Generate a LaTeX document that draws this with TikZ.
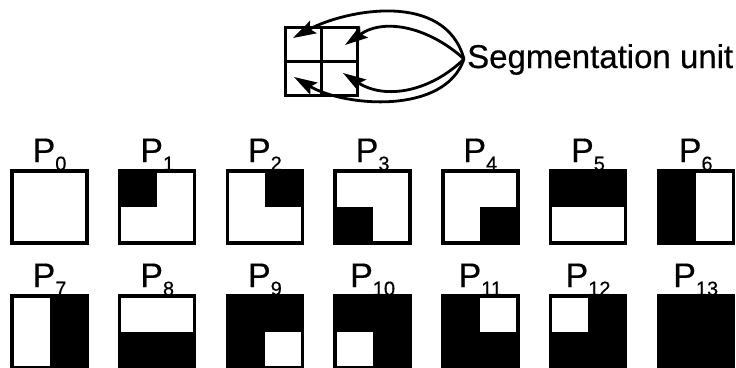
\documentclass[tikz,border=0pt]{standalone}
\usepackage{fontspec}
\setmainfont{Liberation Sans}[FakeBold=0.5]
\usetikzlibrary{arrows.meta,calc}
\newcommand\plab[1]{P\raisebox{-8.5pt}{\fontsize{20}{20}\selectfont #1}}
\begin{document}
\begin{tikzpicture}[x=1pt,y=-1pt,
  pbox/.style={draw, line width=3.4pt, minimum width=75pt, minimum height=72pt,
    inner sep=0pt, outer sep=0pt, anchor=north west, fill=#1},
  pbox/.default=white,
  plabel/.style={anchor=base, inner sep=0pt, font=\fontsize{34}{34}\selectfont},
  cell/.style={draw, line width=3pt, minimum width=36pt, minimum height=34pt, inner sep=0pt, outer sep=0pt},
  seg/.style={line width=2.8pt, -{Stealth[length=23pt,width=14pt,inset=4pt]}},
]
\useasboundingbox (0,0) rectangle (736,367);

% segmentation unit
\node[cell] (c1) at (303,44) {};
\node[cell] (c2) at (339,44) {};
\node[cell] (c3) at (303,78) {};
\node[cell] (c4) at (339,78) {};
\coordinate (conv) at (464,59);
\coordinate (t1) at (293,38);
\coordinate (t2) at (345,45);
\coordinate (t3) at (294,77);
\coordinate (t4) at (343,73);
\draw[seg] (conv) .. controls (445,-10) and (345,10) .. (t1);
\draw[seg] (conv) .. controls (430,28) and (385,17) .. (t2);
\draw[seg] (conv) .. controls (430,92) and (385,100) .. (t4);
\draw[seg] (conv) .. controls (445,115) and (345,107) .. (t3);
\node[anchor=base west, inner sep=0pt, font=\fontsize{33}{33}\selectfont] (su) at (467,68) {Segmentation unit};

% row 1
\node[pbox] (b0) at (12,171) {};
\node[pbox] (b1) at (119.7,171) {};
\node[pbox] (b2) at (227.4,171) {};
\node[pbox] (b3) at (335.1,171) {};
\node[pbox] (b4) at (442.8,171) {};
\node[pbox] (b5) at (550.5,171) {};
\node[pbox] (b6) at (658.2,171) {};
% row 2
\node[pbox] (b7) at (12,296) {};
\node[pbox] (b8) at (119.7,296) {};
\node[pbox=black] (b9) at (227.4,296) {};
\node[pbox=black] (b10) at (335.1,296) {};
\node[pbox=black] (b11) at (442.8,296) {};
\node[pbox=black] (b12) at (550.5,296) {};
\node[pbox=black] (b13) at (658.2,296) {};

% black parts
\fill (b1.north west) rectangle (b1.center);
\fill (b2.north east) rectangle (b2.center);
\fill (b3.south west) rectangle (b3.center);
\fill (b4.south east) rectangle (b4.center);
\fill (b5.north west) rectangle (b5.east);
\fill (b6.north west) rectangle (b6.south);
\fill (b7.north east) rectangle (b7.south);
\fill (b8.south west) rectangle (b8.east);
% white parts
\fill[white] ($(b9.south east)+(-1.7,-1.7)$) rectangle (b9.center);
\fill[white] ($(b10.south west)+(1.7,-1.7)$) rectangle (b10.center);
\fill[white] ($(b11.north east)+(-1.7,1.7)$) rectangle (b11.center);
\fill[white] ($(b12.north west)+(1.7,1.7)$) rectangle (b12.center);

% labels
\foreach \i in {0,...,13}{
  \node[plabel] (l\i) at ($(b\i.north)+(0,-9)$) {\plab{\i}};
}
\end{tikzpicture}
\end{document}
